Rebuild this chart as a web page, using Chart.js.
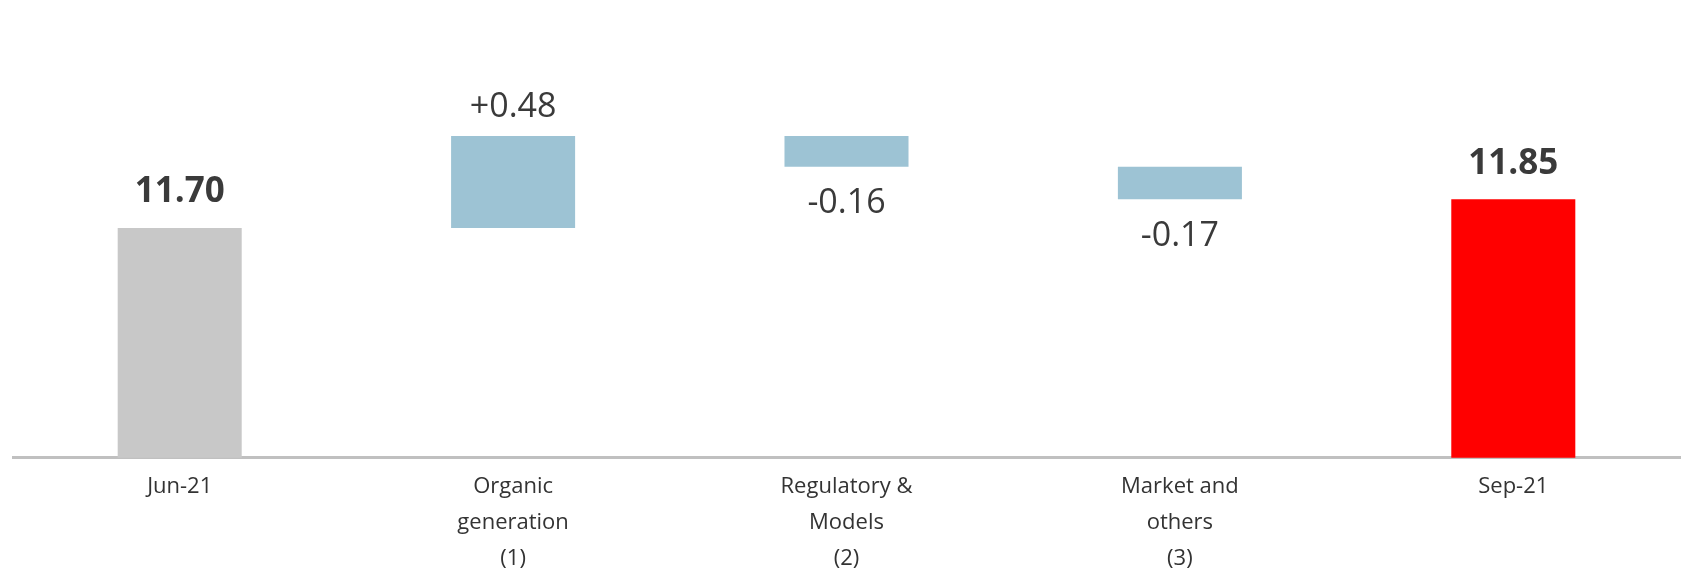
<!DOCTYPE html>
<html>
<head>
<meta charset="utf-8">
<script src="https://cdn.jsdelivr.net/npm/chart.js@4/dist/chart.umd.min.js"></script>
<style>
  html, body { margin: 0; padding: 0; background: #fff; }
  #caja { width: 1694px; height: 588px; position: relative; }
</style>
</head>
<body>
<div id="caja"><canvas id="grafica"></canvas></div>
<script>
// datos
const categorias = [['Jun-21'], ['Organic', 'generation', '(1)'], ['Regulatory &', 'Models', '(2)'], ['Market and', 'others', '(3)'], ['Sep-21']];
const valores = [11.70, 0.48, -0.16, -0.17, 11.85];
const esTotal = [true, false, false, false, true];
const etiquetas = ['11.70', '+0.48', '-0.16', '-0.17', '11.85'];
const colores = ['#c8c8c8', '#9dc3d4', '#9dc3d4', '#9dc3d4', '#ff0000'];
const yMin = 10.5;
const yMax = 12.89;

// barras flotantes a partir de los valores
let acumulado = 0;
const rangos = valores.map((v, i) => {
    if (esTotal[i]) {
        acumulado = v;
        return [0, v];
    }
    const desde = acumulado;
    acumulado = +(acumulado + v).toFixed(2);
    return [desde, acumulado];
});

const pluginEtiquetas = {
    id: 'etiquetas',
    afterDatasetsDraw(chart) {
        const ctx = chart.ctx;
        const meta = chart.getDatasetMeta(0);
        ctx.save();
        ctx.fillStyle = '#3a3a3a';
        ctx.textAlign = 'center';
        meta.data.forEach((bar, i) => {
            const abajo = !esTotal[i] && valores[i] < 0;
            ctx.font = esTotal[i] ? 'bold 35px "Open Sans"' : '34px "Open Sans"';
            if (abajo) {
                ctx.textBaseline = 'top';
                ctx.fillText(etiquetas[i], bar.x, bar.base + 20);
            } else {
                ctx.textBaseline = 'bottom';
                const arriba = Math.min(bar.y, bar.base);
                ctx.fillText(etiquetas[i], bar.x, arriba - (esTotal[i] ? 18 : 12));
            }
        });
        ctx.restore();
    }
};

new Chart(document.getElementById('grafica').getContext('2d'), {
    type: 'bar',
    data: {
        labels: categorias,
        datasets: [{
            data: rangos,
            backgroundColor: colores,
            borderWidth: 0,
            barPercentage: 0.372,
            categoryPercentage: 1
        }]
    },
    options: {
        responsive: true,
        maintainAspectRatio: false,
        animation: false,
        layout: { padding: { left: 13, right: 14, top: 0, bottom: 0 } },
        scales: {
            x: {
                grid: { display: false, drawTicks: false },
                border: { display: true, color: '#c0c0c0', width: 3 },
                ticks: {
                    color: '#333333',
                    padding: 11,
                    font: { family: 'Open Sans', size: 22, lineHeight: 1.64 }
                }
            },
            y: {
                display: false,
                min: yMin,
                max: yMax
            }
        },
        plugins: {
            legend: { display: false },
            tooltip: { enabled: false }
        }
    },
    plugins: [pluginEtiquetas]
});
</script>
</body>
</html>
